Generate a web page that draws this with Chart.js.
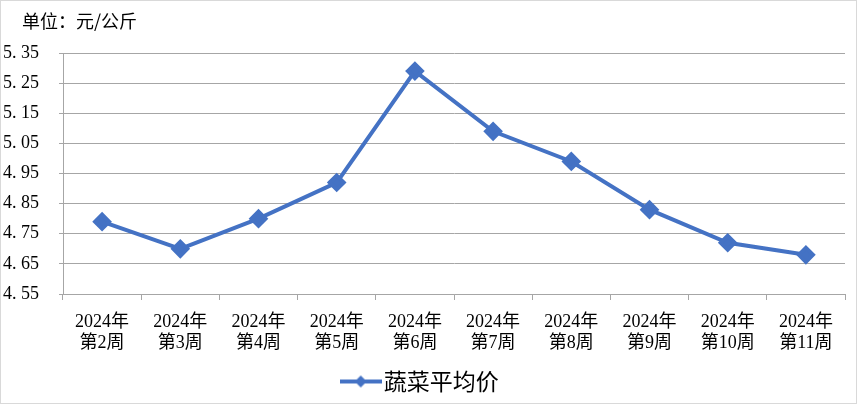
<!DOCTYPE html>
<html>
<head>
<meta charset="utf-8">
<script src="https://cdn.jsdelivr.net/npm/chart.js@4"></script>
<style>
  html, body { margin: 0; padding: 0; background: #fff; }
  #wrap { width: 857px; height: 404px; box-sizing: border-box; border: 1px solid #d9d9d9; }
</style>
</head>
<body>
<div id="wrap"><canvas id="priceChart" width="855" height="402"></canvas></div>
<script>
const weeks = [
  ['2024年', '第2周'], ['2024年', '第3周'], ['2024年', '第4周'], ['2024年', '第5周'], ['2024年', '第6周'],
  ['2024年', '第7周'], ['2024年', '第8周'], ['2024年', '第9周'], ['2024年', '第10周'], ['2024年', '第11周']
];
const vegPrice = [4.79, 4.70, 4.80, 4.92, 5.29, 5.09, 4.99, 4.83, 4.72, 4.68];
const seriesName = '蔬菜平均价';
const unitText = '单位：元/公斤';

const BLUE = '#4472C4';
const GRID = '#a6a6a6';
const FONT = "'Liberation Serif', 'Noto Sans CJK SC', serif";

// legend marker: line with a diamond
const marker = document.createElement('canvas');
marker.width = 42; marker.height = 14;
(() => {
  const m = marker.getContext('2d');
  m.strokeStyle = BLUE; m.lineWidth = 4;
  m.beginPath(); m.moveTo(0, 7); m.lineTo(42, 7); m.stroke();
  m.fillStyle = BLUE;
  m.beginPath(); m.moveTo(21, 1); m.lineTo(27, 7); m.lineTo(21, 13); m.lineTo(15, 7); m.closePath(); m.fill();
})();

const unitTitle = {
  id: 'unitTitle',
  afterDraw(chart) {
    const c = chart.ctx;
    c.save();
    c.fillStyle = '#000';
    c.font = "18px 'Noto Sans CJK SC', sans-serif";
    c.textBaseline = 'middle';
    c.fillText(unitText, 21, 20);
    c.restore();
  }
};

new Chart(document.getElementById('priceChart').getContext('2d'), {
  type: 'line',
  data: {
    labels: weeks,
    datasets: [{
      label: seriesName,
      data: vegPrice,
      borderColor: BLUE,
      backgroundColor: BLUE,
      borderWidth: 4,
      pointStyle: 'rectRot',
      pointRadius: 7,
      pointBackgroundColor: BLUE,
      pointBorderColor: BLUE,
      fill: false,
      tension: 0
    }]
  },
  plugins: [unitTitle],
  options: {
    responsive: false,
    animation: false,
    layout: { padding: { top: 52, right: 11, left: 2, bottom: 0 } },
    plugins: {
      tooltip: { enabled: false },
      legend: {
        position: 'bottom',
        labels: {
          usePointStyle: true,
          pointStyle: marker,
          color: '#000',
          padding: 12,
          font: { family: "'Noto Sans CJK SC', sans-serif", size: 23 }
        }
      }
    },
    scales: {
      x: {
        offset: true,
        afterFit(scale) { scale.height = 64; },
        grid: { offset: true, drawOnChartArea: false, color: GRID, tickLength: 6 },
        border: { color: GRID },
        ticks: { color: '#000', font: { family: FONT, size: 18, lineHeight: 1.2 }, padding: 11, maxRotation: 0, autoSkip: false }
      },
      y: {
        min: 4.55,
        max: 5.35,
        afterFit(scale) { scale.width = 60; },
        afterBuildTicks(scale) {
          const t = [];
          for (let i = 0; i <= 8; i++) t.push({ value: +(4.55 + i * 0.1).toFixed(2) });
          scale.ticks = t;
        },
        grid: { color: GRID, tickLength: 4 },
        border: { color: GRID },
        ticks: {
          color: '#000',
          crossAlign: 'far',
          font: { family: FONT, size: 18 },
          callback: v => v.toFixed(2).replace('.', '. ')
        }
      }
    }
  }
});
</script>
</body>
</html>
